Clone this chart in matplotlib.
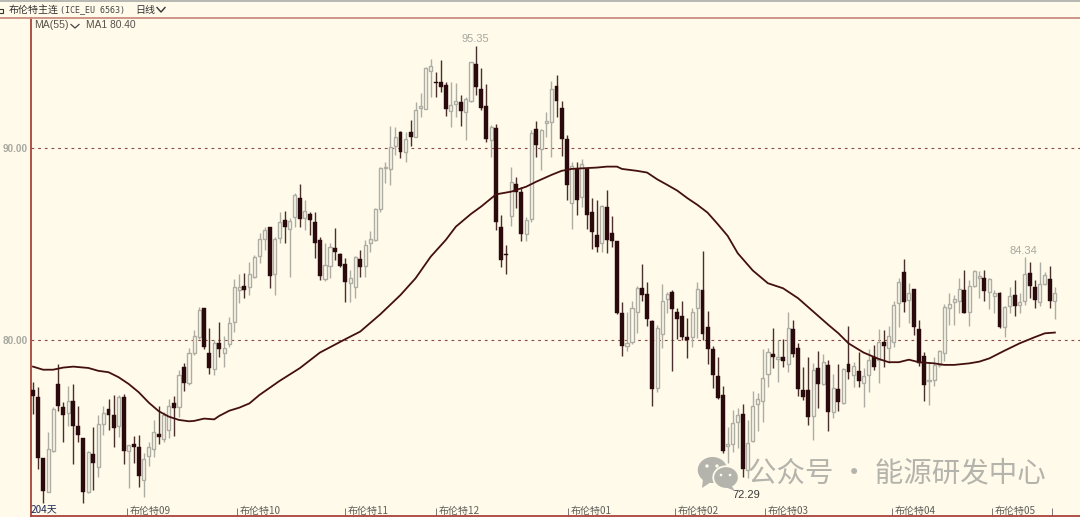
import numpy as np
import matplotlib
matplotlib.use('Agg')
import matplotlib.pyplot as plt
from matplotlib.patches import Ellipse, Polygon, Rectangle

plt.rcParams['font.family'] = ['Noto Sans CJK SC', 'DejaVu Sans']

# daily bars: high, body top, body bottom, low
highs = [77.86,77.60,73.88,75.26,76.53,78.76,76.82,77.65,77.72,76.61,74.92,74.28,75.52,76.13,76.61,76.94,77.17,77.17,77.20,74.57,
         75.06,75.09,74.17,74.75,75.87,76.61,76.30,76.94,77.12,78.47,78.81,79.59,80.55,81.76,81.71,80.67,80.03,80.94,80.23,81.24,
         83.19,83.45,83.49,84.10,84.44,85.58,85.90,85.91,85.39,86.69,86.73,86.35,87.64,88.13,87.30,86.69,86.69,85.39,85.05,85.05,
         85.86,84.53,84.27,83.66,84.39,84.70,85.22,85.69,86.87,89.03,89.29,91.14,91.11,90.88,90.85,91.45,92.41,92.84,94.19,94.61,
         93.92,94.57,93.45,93.45,93.36,92.75,92.67,94.48,95.32,94.14,93.32,91.20,91.23,86.52,84.96,89.00,88.51,87.99,86.43,90.94,
         91.40,90.99,91.89,93.50,93.79,92.44,90.69,89.29,89.25,89.43,88.94,87.39,87.27,87.04,87.82,86.47,85.17,81.98,81.50,82.05,
         82.85,83.97,83.06,81.06,80.81,82.94,82.54,82.62,81.67,82.05,81.15,81.67,83.02,84.65,81.53,79.73,79.13,77.65,75.52,76.39,
         76.48,76.70,75.87,77.38,77.26,79.56,79.59,80.63,80.03,80.08,81.46,81.06,79.89,78.64,79.13,78.81,79.45,79.28,78.99,78.26,
         78.76,78.55,80.77,78.90,79.42,78.55,79.54,79.77,80.60,80.55,80.75,82.07,83.23,84.22,82.97,82.69,81.06,79.42,78.90,79.16,
         79.51,81.90,82.45,82.36,83.23,83.66,83.14,83.66,83.63,83.66,83.23,82.62,82.54,81.79,82.80,83.14,82.45,84.36,84.06,83.14,
         84.06,83.58,83.87,82.80]
body_tops = [77.43,77.05,73.88,74.35,76.44,77.72,76.56,76.84,76.84,75.58,74.92,74.23,74.09,75.66,76.25,76.44,76.15,77.05,77.06,74.55,
         74.62,74.48,73.86,74.45,75.23,75.14,76.13,76.60,76.74,78.19,78.61,79.37,80.23,81.58,81.67,79.37,79.85,79.85,79.63,80.89,
         82.76,82.80,82.81,83.45,84.34,85.27,85.74,85.88,85.26,86.17,86.24,86.21,87.56,87.38,86.73,86.55,86.14,85.22,83.90,84.84,
         84.81,84.48,83.97,83.23,84.32,84.23,84.94,85.27,86.82,88.98,89.00,90.03,90.59,90.83,90.45,90.83,91.98,92.18,94.14,94.28,
         93.41,93.45,93.27,92.22,92.44,92.41,92.53,94.45,94.37,93.05,92.18,91.07,91.04,85.90,84.51,88.25,88.15,87.73,86.24,90.80,
         90.97,90.92,91.39,93.05,93.24,92.10,90.49,89.08,88.89,89.17,88.91,86.69,85.46,86.99,86.95,85.57,85.17,81.41,79.89,81.71,
         82.71,82.71,82.42,81.01,80.63,82.07,82.40,82.50,81.50,81.27,80.18,81.46,82.68,82.62,80.68,79.54,78.16,77.15,74.61,75.71,
         76.15,76.18,74.66,76.61,76.96,78.07,79.42,79.32,79.16,79.13,80.67,80.58,79.59,77.41,77.41,78.47,78.59,78.90,78.73,77.52,
         77.48,78.50,78.76,78.66,78.43,78.16,78.99,79.14,79.94,79.92,80.23,81.86,83.02,83.56,82.45,82.67,80.58,79.19,77.95,78.73,
         79.45,81.76,81.90,82.14,82.66,82.62,82.85,83.59,83.37,83.25,83.18,82.45,82.47,81.76,82.29,82.36,82.02,83.47,83.52,82.78,
         82.93,83.39,83.21,82.45]
body_bots = [77.13,73.91,72.18,72.15,74.28,76.61,76.13,76.25,75.58,75.07,72.13,72.11,73.64,73.41,75.65,76.13,75.44,75.56,74.26,74.26,
         74.47,72.94,72.75,73.98,74.35,75.00,74.88,75.35,76.51,76.53,77.77,77.81,79.37,80.16,79.64,78.57,78.54,79.56,79.37,79.80,
         80.98,82.62,82.62,82.80,83.30,84.39,85.27,83.37,83.44,85.34,85.90,85.81,86.43,86.33,86.38,86.24,85.08,83.37,83.18,83.89,
         84.58,83.89,83.06,82.97,82.80,83.84,83.85,85.05,85.24,86.82,88.95,88.91,90.12,89.77,89.77,90.59,90.59,92.06,92.04,94.02,
         93.36,93.17,92.04,91.91,92.29,91.94,91.85,92.42,93.14,92.08,90.47,90.40,86.14,84.20,84.46,86.47,87.73,85.55,85.55,86.31,
         90.16,89.93,91.28,91.33,92.46,90.47,88.08,87.16,87.28,87.47,86.54,85.62,84.87,85.05,85.24,85.17,81.41,79.71,79.71,79.90,
         81.46,82.36,81.10,77.48,77.55,80.32,82.14,81.64,81.13,80.20,80.01,80.18,81.67,80.35,79.58,78.23,77.01,74.26,74.50,74.61,
         75.75,73.34,73.27,74.78,76.70,76.86,78.24,79.13,79.06,78.92,78.76,79.30,77.50,77.08,76.04,76.10,77.74,77.74,76.30,76.30,
         76.79,76.74,78.35,78.21,77.91,77.77,78.19,78.64,78.99,79.73,79.59,79.94,81.93,82.02,82.10,80.72,78.85,77.71,77.91,77.97,
         78.73,79.33,81.71,81.98,82.03,81.45,81.46,82.83,83.26,82.57,82.50,82.29,80.72,80.68,81.79,81.81,81.84,82.03,82.85,82.10,
         82.02,82.92,82.07,82.03]
lows = [76.18,73.32,71.54,72.11,74.23,76.35,74.71,75.58,73.58,74.71,71.58,72.06,72.23,72.93,75.09,75.35,74.48,75.00,73.58,72.32,
         73.62,72.37,71.89,73.50,73.96,74.61,74.75,74.92,75.04,76.04,77.39,77.69,79.25,80.06,79.56,78.26,78.21,79.13,78.64,79.64,
         80.46,81.93,82.19,82.36,83.25,84.03,84.70,82.71,82.36,85.05,85.05,83.32,85.91,85.91,85.74,85.48,84.27,83.14,83.11,83.23,
         84.18,83.84,81.98,81.98,82.19,83.32,83.28,84.61,85.18,86.69,88.16,88.08,89.64,89.46,89.29,90.12,90.55,91.59,92.01,92.67,
         92.67,92.93,91.68,91.11,91.63,91.16,90.42,92.41,92.75,91.97,90.33,89.55,85.74,83.84,83.44,85.97,86.87,85.19,85.19,86.17,
         89.52,88.86,90.59,89.55,91.63,89.60,87.30,85.78,86.52,86.95,85.79,84.75,84.58,84.61,84.53,84.87,81.38,79.21,79.45,79.82,
         80.37,82.07,80.75,76.61,77.31,79.59,81.45,78.43,80.08,80.03,79.07,79.68,80.11,80.03,78.78,77.55,76.94,74.14,73.65,74.22,
         74.40,72.89,72.84,74.74,75.32,75.78,77.57,78.55,77.83,78.61,78.38,79.16,77.12,76.91,75.59,74.83,76.51,77.69,75.30,75.96,
         76.35,76.68,77.98,77.60,77.60,76.53,77.34,78.47,77.81,78.64,78.85,79.68,80.72,81.46,80.89,80.29,78.68,76.87,76.65,77.65,
         78.64,78.95,80.81,80.81,81.41,81.41,80.75,82.80,82.19,82.05,81.64,81.41,80.63,80.16,81.41,81.27,81.41,81.84,82.19,81.70,
         81.79,82.88,81.70,81.10]
# D = closed lower, W = closed higher, ten days to a chunk
directions = ("DDDWWDDWDD" "DWDWWDDWDW" "DDWWWDWWDW" "DWWWDDWDWW" "WWDWWWWDWW" "DWWDWDDDWW" "DDDWWDWWWW"
              "WWWDWDWWWW" "DDDWWDWWDD" "DWDDDWDDWW" "DWWWDDDWDW" "DDDWDDDDWW" "WDDDWWWDDD" "DWWDDDDDWW"
              "WDWWWWWDWD" "WDDDDWDWDW" "DWDWDWWDWD" "WWWDWDDDWW" "WWWWWDWWWD" "WWDWWDWWDD" "WWDW")

ma_days = [0,2,4,6,8,11,13,15,17,19,21,23,25,27,29,31,32,34,36,37,39,41,43,45,49,53,57,62,65,69,73,76,79,
           82,84,87,89,92,95,98,100,103,105,107,109,112,114,116,117,120,122,124,126,128,130,132,134,136,138,140,
           143,146,149,152,155,158,160,162,165,168,170,172,174,176,179,181,183,186,188,190,193,196,199,201,203]
ma_values = [78.64,78.48,78.48,78.59,78.64,78.57,78.42,78.35,78.09,77.74,77.31,76.77,76.32,76.04,75.87,75.80,75.82,75.94,75.90,76.08,
             76.35,76.51,76.73,77.17,77.90,78.56,79.37,80.06,80.46,81.36,82.36,83.23,84.35,85.22,85.91,86.57,86.95,87.59,87.73,87.99,
             88.25,88.60,88.81,88.91,88.94,88.98,89.03,89.03,88.91,88.81,88.72,88.37,88.08,87.78,87.39,87.04,86.64,86.05,85.43,84.53,
             83.63,82.97,82.71,82.19,81.50,80.81,80.37,79.85,79.37,79.04,78.87,78.87,79.00,78.87,78.81,78.73,78.73,78.81,78.90,79.07,
             79.47,79.85,80.17,80.37,80.41]

y_ticks = [90, 80]
y_tick_labels = ['90.00', '80.00']
month_days = [18.7, 40.5, 62, 80, 106.3, 127.5, 145.4, 170.6, 190.6]
month_labels = ['布伦特09', '布伦特10', '布伦特11', '布伦特12', '布伦特01', '布伦特02', '布伦特03', '布伦特04', '布伦特05']
last_tick_day = 202.4

BG = '#fffaea'
RED = '#a9443c'
DARK = '#2a0a0c'
PALE = '#adada4'
GREY_TEXT = '#a8a8a0'

fig = plt.figure(figsize=(10.8, 5.17), dpi=100, facecolor=BG)
W, H = 1080.0, 517.0
ax = fig.add_axes([31/W, 1-516/H, (W-31)/W, (516-18)/H], facecolor=BG)
ax.set_xlim(-0.397, 207.99)
ax.set_ylim(70.88, 96.75)

for s in ['right', 'top']:
    ax.spines[s].set_visible(False)
for s in ['left', 'bottom']:
    ax.spines[s].set_color(RED)
    ax.spines[s].set_linewidth(1.3)

days = np.arange(len(highs))
highs, lows = np.array(highs), np.array(lows)
body_tops, body_bots = np.array(body_tops), np.array(body_bots)
down = np.array([d == 'D' for d in directions])

for v in y_ticks:
    ax.axhline(v, color='#8c4a45', lw=0.8, ls=(0, (2.5, 3.5)), zorder=1)

# wicks first, then bodies on top of them
ax.vlines(days[~down], lows[~down], highs[~down], color=PALE, lw=1.0, zorder=2)
ax.bar(days[~down], (body_tops-body_bots)[~down], bottom=body_bots[~down], width=0.62,
       facecolor=BG, edgecolor=PALE, linewidth=1.0, zorder=3)
ax.vlines(days[down], lows[down], highs[down], color='#4a2f2d', lw=1.0, zorder=2)
ax.bar(days[down], (body_tops-body_bots)[down], bottom=body_bots[down], width=0.78,
       facecolor=DARK, edgecolor=DARK, linewidth=0.3, zorder=3)

ax.plot(ma_days, ma_values, color='#43100f', lw=1.3, zorder=4)

ax.set_yticks(y_ticks)
ax.set_yticklabels(y_tick_labels, fontsize=7.2, color=GREY_TEXT, fontweight='bold', family=['Liberation Sans'])
ax.tick_params(axis='y', length=0, pad=2.5)
ax.set_xticks(month_days + [last_tick_day])
ax.set_xticklabels([])
ax.tick_params(axis='x', direction='in', length=6, width=0.7, color='#777777')

for d, lab in zip(month_days, month_labels):
    ax.annotate(lab, (d, 70.88), xytext=(1.8, 0.2), textcoords='offset points', fontsize=7.2,
                color='#5f5f5a', va='bottom', ha='left')

# everything outside the plot area, in pixel coordinates
top = fig.add_axes([0, 0, 1, 1], facecolor='none')
top.set_xlim(0, W)
top.set_ylim(H, 0)
top.axis('off')

top.add_patch(Rectangle((0, 0), W, 2.2, color='#b9b9b4', lw=0))
top.plot([0, W], [18, 18], color='#c98f80', lw=1.3)
top.add_patch(Rectangle((-2, 8.5), 5, 4, facecolor='none', edgecolor='#333333', lw=0.8))
top.text(9, 10, '布伦特主连', fontsize=7.2, color='#333333', va='center')
top.text(60, 10, '(ICE_EU 6563)', fontsize=6, color='#444444', va='center', family=['DejaVu Sans Mono'])
top.text(135, 10, '日线', fontsize=7.2, color='#333333', va='center')
top.plot([157, 161, 165], [7.5, 12, 7.5], color='#333333', lw=1.0)

top.text(34, 25.5, 'MA(55)', fontsize=7.6, color='#5a504b', va='center', family=['Liberation Sans'])
top.plot([71, 75, 79], [24.5, 28, 24.5], color='#444444', lw=0.9)
top.text(86, 25.5, 'MA1 80.40', fontsize=7.4, color='#5a504b', va='center', family=['Liberation Sans'])

top.text(475, 39, '95.35', fontsize=8, color=GREY_TEXT, ha='center', va='center', family=['Liberation Sans'])
top.text(1023, 250.5, '84.34', fontsize=8, color=GREY_TEXT, ha='center', va='center', family=['Liberation Sans'])
top.text(746.5, 494.5, '72.29', fontsize=8, color='#3a3a36', ha='center', va='center', family=['Liberation Sans'])
top.text(30.5, 509, '204天', fontsize=7.2, color='#1d2a57', va='center')

# watermark
WM = '#b4b4ac'
top.add_patch(Ellipse((712.5, 470), 29.5, 26, color=WM, lw=0, zorder=5))
top.add_patch(Polygon([[703, 479], [702, 488], [711, 482]], color=WM, lw=0, zorder=5))
top.add_patch(Ellipse((726, 477.5), 25.5, 22.5, facecolor=WM, edgecolor=BG, lw=1.3, zorder=6))
top.add_patch(Polygon([[731, 485], [735, 491], [725, 487]], color=WM, lw=0, zorder=6))
for ex, ey, r in [(707, 466, 3.4), (717, 466, 3.4), (721, 475, 2.6), (730, 475, 2.6)]:
    top.add_patch(Ellipse((ex, ey), r, r, color=BG, lw=0, zorder=7))
top.text(748, 473, '公众号 · 能源研发中心', fontsize=20.5, color=WM, va='center', zorder=5)

fig.savefig('out.png', dpi=100, facecolor=BG)
